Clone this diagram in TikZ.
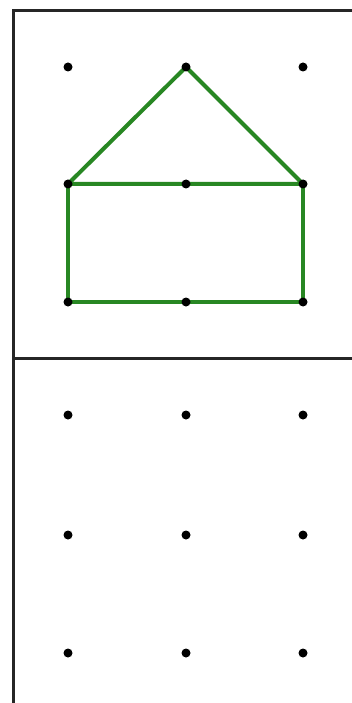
\documentclass[tikz,border=0pt]{standalone}
\begin{document}
\begin{tikzpicture}[x=1pt,y=-1pt,
  frameline/.style={line width=3pt,black!85},
  roof/.style={line width=4pt,color={rgb,255:red,40;green,135;blue,35},line cap=round,line join=round},
  gdot/.style={circle,fill=black,inner sep=0pt,minimum size=9pt}]
\useasboundingbox (0,0) rectangle (351,703);
\fill[white] (0,0) rectangle (351,703);
% frame
\coordinate (ftl) at (13.5,11);
\coordinate (ftr) at (353,11);
\coordinate (fbl) at (13.5,705);
\coordinate (fml) at (13.5,358);
\coordinate (fmr) at (353,358);
\draw[frameline] (ftr) -- (ftl) -- (fbl);
\draw[frameline] (fml) -- (fmr);
% grid coordinates
\foreach \c/\x in {1/68,2/186,3/303}{
  \foreach \r/\y in {1/67,2/184,3/302}{
    \coordinate (t\r\c) at (\x,\y);
  }
  \foreach \r/\y in {1/415,2/535,3/653}{
    \coordinate (b\r\c) at (\x,\y);
  }
}
% house
\draw[roof] (t21) -- (t12) -- (t23) -- cycle;
\draw[roof] (t21) -- (t31) -- (t33) -- (t23);
% dots
\foreach \r in {1,2,3}{
  \foreach \c in {1,2,3}{
    \node[gdot] (dt\r\c) at (t\r\c) {};
    \node[gdot] (db\r\c) at (b\r\c) {};
  }
}
\end{tikzpicture}
\end{document}
